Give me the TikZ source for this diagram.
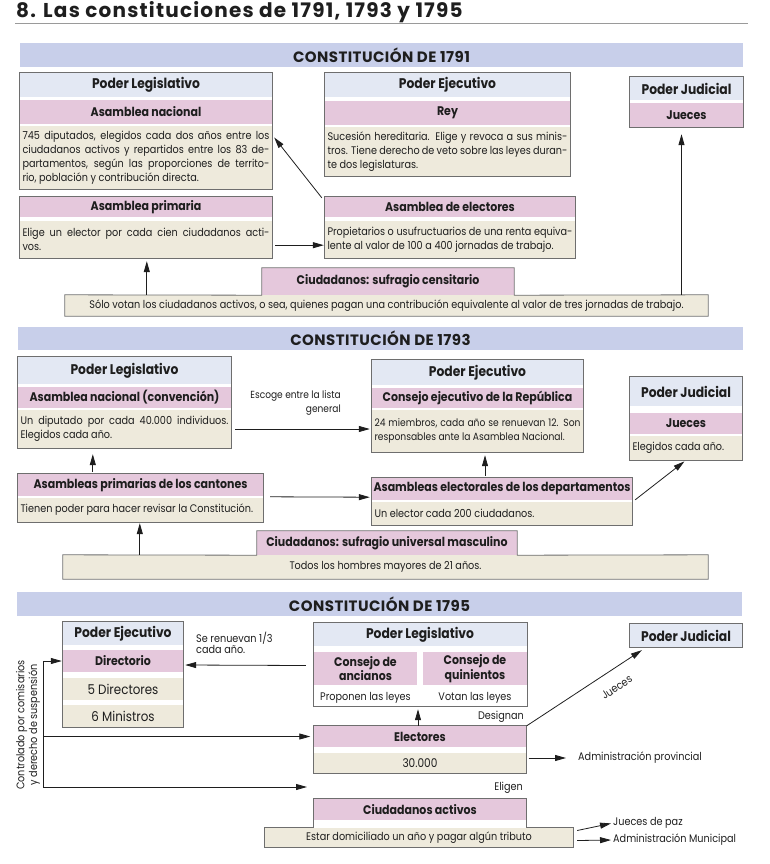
\documentclass[tikz,border=0pt]{standalone}
\usepackage{fontspec}
\setmainfont{Poppins}[FakeStretch=0.88]
\newfontfamily\titlefont{Poppins}[LetterSpace=6]
\newfontfamily\widefont{Poppins}[LetterSpace=3]
\usetikzlibrary{arrows.meta}

\definecolor{bandblue}{HTML}{C8CFEA}
\definecolor{headblue}{HTML}{E3E8F3}
\definecolor{pinkc}{HTML}{E5C8DC}
\definecolor{beige}{HTML}{EEEADC}
\definecolor{framegray}{HTML}{6E6E6E}
\definecolor{rulegray}{HTML}{9A9A9A}
\definecolor{ink}{HTML}{1E1E1E}

\tikzset{
  titletext/.style={font=\titlefont\fontsize{20}{22}\selectfont\bfseries, text=ink, inner sep=0pt},
  band/.style={fill=bandblue, minimum height=24, inner sep=0pt, font=\widefont\fontsize{15}{16}\selectfont\bfseries, text=ink},
  headband/.style={fill=headblue, inner sep=0pt, font=\fontsize{14}{15}\selectfont\bfseries, text=ink},
  pinkband/.style={fill=pinkc, inner sep=0pt, font=\fontsize{12.5}{12.5}\selectfont\bfseries, text=ink, align=center},
  textband/.style={fill=beige, inner xsep=2.5pt, inner ysep=1pt, font=\fontsize{11}{14}\selectfont, text=ink, align=justify},
  cellband/.style={fill=beige, inner sep=0pt, font=\fontsize{13.5}{14}\selectfont, text=ink},
  lowband/.style={fill=beige, inner sep=0pt, font=\fontsize{11}{13}\selectfont, text=ink},
  plainband/.style={inner sep=0pt, font=\fontsize{11}{13}\selectfont, text=ink},
  frame/.style={draw=framegray, line width=0.8pt},
  arr/.style={draw=ink, line width=0.8pt, -{Triangle[length=11pt,width=6pt]}},
  lbl/.style={font=\fontsize{11}{11}\selectfont, text=ink, inner sep=0pt},
}

\begin{document}
\begin{tikzpicture}[x=1pt, y=-1pt]
\useasboundingbox (0,0) rectangle (769,864);

% title
\node[titletext, anchor=base west] (title) at (16,18) {8. Las constituciones de 1791, 1793 y 1795};
\draw[rulegray, line width=0.6pt] (15,23) -- (748,23);

% ---------------- 1791 ----------------
\node[band, minimum width=723] (band91) at (381.5,55) {CONSTITUCIÓN DE 1791};

\node[headband, minimum width=252, minimum height=24] (leg91h) at (146,85) {Poder Legislativo};
\node[pinkband, minimum width=252, minimum height=24] (leg91p) at (146,112) {Asamblea nacional};
\node[textband, text width=247, minimum height=63] (leg91t) at (146,157.5) {745 diputados, elegidos cada dos años entre los\linebreak ciudadanos activos y repartidos entre los 83 de-\linebreak partamentos, según las proporciones de territo-\linebreak rio, población y contribución directa.};
\draw[frame] (leg91h.north west) rectangle (leg91t.south east);

\node[headband, minimum width=245, minimum height=24] (ejec91h) at (447.5,85) {Poder Ejecutivo};
\node[pinkband, minimum width=245, minimum height=24] (ejec91p) at (447.5,113) {Rey};
\node[textband, text width=240, minimum height=49] (ejec91t) at (447.5,151.5) {Sucesión hereditaria. Elige y revoca a sus minis-\linebreak tros. Tiene derecho de veto sobre las leyes duran-\linebreak te dos legislaturas.};
\draw[frame] (ejec91h.north west) rectangle (ejec91t.south east);

\node[headband, minimum width=113, minimum height=23] (jud91h) at (686.5,88.5) {Poder Judicial};
\node[pinkband, minimum width=113, minimum height=24] (jud91p) at (686.5,115) {Jueces};
\draw[frame] (jud91h.north west) rectangle (jud91p.south east);

\node[pinkband, minimum width=252, minimum height=20] (prim91p) at (146,207) {Asamblea primaria};
\node[textband, text width=247, minimum height=37] (prim91t) at (146,239.5) {Elige un elector por cada cien ciudadanos acti-\linebreak vos.};
\draw[frame] (prim91p.north west) rectangle (prim91t.south east);

\node[pinkband, minimum width=250, minimum height=20] (elec91p) at (450,207) {Asamblea de electores};
\node[textband, text width=245, minimum height=37] (elec91t) at (450,239.5) {Propietarios o usufructuarios de una renta equiva-\linebreak lente al valor de 100 a 400 jornadas de trabajo.};
\draw[frame] (elec91p.north west) rectangle (elec91t.south east);

\node[pinkband, minimum width=252, minimum height=27] (ciud91t) at (388,281.5) {Ciudadanos: sufragio censitario};
\node[lowband, minimum width=643, minimum height=21] (ciud91) at (386.5,305.5) {Sólo votan los ciudadanos activos, o sea, quienes pagan una contribución equivalente al valor de tres jornadas de trabajo.};
\draw[frame] (ciud91.south west) -- (ciud91.north west) -- (ciud91t.south west) -- (ciud91t.north west) -- (ciud91t.north east) -- (ciud91t.south east) -- (ciud91.north east) -- (ciud91.south east) -- cycle;

\draw[arr] ([shift={(3,-13)}]prim91t.south east) -- ([shift={(-1,-13)}]elec91t.south west);
\draw[arr] ([shift={(-3,1)}]elec91p.north west) -- ([shift={(2,-20)}]leg91t.east);
\coordinate (c91up) at ([shift={(82,0)}]ciud91.north west);
\draw[arr, shorten >=3pt] (c91up) -- (c91up |- prim91t.south);
\coordinate (j91in) at ([shift={(-5,0)}]jud91p.south);
\draw[arr, shorten >=7pt] (j91in |- ciud91.north) -- (j91in);

% ---------------- 1793 ----------------
\node[band, minimum width=725, minimum height=23] (band93) at (380.5,338.5) {CONSTITUCIÓN DE 1793};

\node[headband, minimum width=213, minimum height=27] (leg93h) at (124.5,370.5) {Poder Legislativo};
\node[pinkband, minimum width=213, minimum height=21] (leg93p) at (124.5,397.5) {Asamblea nacional (convención)};
\node[textband, text width=208, minimum height=38] (leg93t) at (124.5,429) {Un diputado por cada 40.000 individuos.\linebreak Elegidos cada año.};
\draw[frame] (leg93h.north west) rectangle (leg93t.south east);

\node[headband, minimum width=211, minimum height=25] (ejec93h) at (477.5,372.5) {Poder Ejecutivo};
\node[pinkband, minimum width=211, minimum height=20] (ejec93p) at (477.5,398) {Consejo ejecutivo de la República};
\node[textband, font=\fontsize{10.4}{14}\selectfont, text width=206, minimum height=42] (ejec93t) at (477.5,431) {\parfillskip=0pt 24 miembros, cada año se renuevan 12. Son\linebreak responsables ante la Asamblea Nacional.};
\draw[frame] (ejec93h.north west) rectangle (ejec93t.south east);

\node[headband, minimum width=112, minimum height=29] (jud93h) at (686,391.5) {Poder Judicial};
\node[pinkband, minimum width=112, minimum height=21] (jud93p) at (686,423.5) {Jueces};
\node[textband, text width=107, minimum height=24] (jud93t) at (686,448) {Elegidos cada año.};
\draw[frame] (jud93h.north west) rectangle (jud93t.south east);

\node[pinkband, minimum width=245, minimum height=22] (prim93p) at (140.5,485) {Asambleas primarias de los cantones};
\node[textband, text width=240, minimum height=24] (prim93t) at (140.5,510) {\parfillskip=0pt Tienen poder para hacer revisar la Constitución.};
\draw[frame] (prim93p.north west) rectangle (prim93t.south east);

\node[pinkband, minimum width=260, minimum height=22] (elec93p) at (502,489) {Asambleas electorales de los departamentos};
\node[textband, text width=255, minimum height=23] (elec93t) at (502,513.5) {Un elector cada 200 ciudadanos.};
\draw[frame] (elec93p.north west) rectangle (elec93t.south east);

\node[pinkband, minimum width=260, minimum height=24] (ciud93t) at (387,543) {Ciudadanos: sufragio universal masculino};
\node[lowband, minimum width=645, minimum height=24] (ciud93) at (385.5,567) {Todos los hombres mayores de 21 años.};
\draw[frame] (ciud93.south west) -- (ciud93.north west) -- (ciud93t.south west) -- (ciud93t.north west) -- (ciud93t.north east) -- (ciud93t.south east) -- (ciud93.north east) -- (ciud93.south east) -- cycle;

\draw[arr] ([shift={(4,0)}]leg93t.east) -- ([shift={(-2,-2)}]ejec93t.west);
\node[lbl, align=right, anchor=east, font=\fontsize{10.3}{14}\selectfont] (escoge) at (341,403) {Escoge entre la lista\\general};
\coordinate (p93up) at ([shift={(75,-2)}]prim93p.north west);
\draw[arr, shorten >=6pt] (p93up) -- (p93up |- leg93t.south);
\draw[arr] ([shift={(7,-1)}]prim93t.north east) -- ([shift={(-2,-3)}]elec93p.south west);
\coordinate (c93up) at ([shift={(77,0)}]ciud93.north west);
\draw[arr, shorten >=1pt] (c93up) -- (c93up |- prim93t.south);
\coordinate (e93up) at ([shift={(-17,-2)}]elec93p.north);
\draw[arr, shorten >=3pt] (e93up) -- (e93up |- ejec93t.south);
\draw[arr, shorten >=2pt] ([shift={(3,-2)}]elec93t.north east) -- (jud93t.south);

% ---------------- 1795 ----------------
\node[band, minimum width=725] (band95) at (379.5,604) {CONSTITUCIÓN DE 1795};

\node[headband, minimum width=120, minimum height=23] (ejec95h) at (123,633.5) {Poder Ejecutivo};
\node[pinkband, minimum width=120, minimum height=22] (ejec95p) at (123,661) {Directorio};
\node[cellband, minimum width=120, minimum height=22] (ejec95a) at (123,689) {5 Directores};
\node[cellband, minimum width=120, minimum height=22] (ejec95b) at (123,716) {6 Ministros};
\draw[frame] (ejec95h.north west) rectangle (ejec95b.south east);

\node[headband, minimum width=213, minimum height=23] (leg95h) at (420,634.5) {Poder Legislativo};
\node[pinkband, minimum width=103, minimum height=33] (leg95l) at (365.5,668.5) {Consejo de\\ancianos};
\node[pinkband, minimum width=104, minimum height=33] (leg95r) at (475,668.5) {Consejo de\\quinientos};
\node[plainband, minimum width=103, minimum height=17] (leg95bl) at (365.5,697.5) {Proponen las leyes};
\node[plainband, minimum width=104, minimum height=17] (leg95br) at (475,697.5) {Votan las leyes};
\draw[frame] (leg95h.north west) rectangle (leg95br.south east);

\node[headband, minimum width=112, minimum height=23] (jud95h) at (686,635.5) {Poder Judicial};
\draw[frame] (jud95h.north west) rectangle (jud95h.south east);

\node[pinkband, minimum width=213, minimum height=21] (elec95p) at (420,736.5) {Electores};
\node[lowband, font=\fontsize{12}{13}\selectfont, minimum width=213, minimum height=20] (elec95t) at (420,763) {30.000};
\draw[frame] (elec95p.north west) rectangle (elec95t.south east);

\node[pinkband, minimum width=213, minimum height=21] (ciud95t) at (420,809.5) {Ciudadanos activos};
\node[lowband, minimum width=308, minimum height=19] (ciud95) at (419,837.5) {Estar domiciliado un año y pagar algún tributo};
\draw[frame] (ciud95.south west) -- (ciud95.north west) -- (ciud95t.west |- ciud95.north) -- (ciud95t.north west) -- (ciud95t.north east) -- (ciud95t.east |- ciud95.north) -- (ciud95.north east) -- (ciud95.south east) -- cycle;

\draw[arr] ([shift={(-8,-3)}]leg95l.west) -- ([shift={(2,4)}]ejec95p.east);
\node[lbl, align=left, anchor=west, font=\fontsize{11}{11}\selectfont] (renuevan) at (196,643) {Se renuevan 1/3\\cada año.};

\coordinate (ctrltop) at (43,661);
\coordinate (ctrlbot) at (43,787);
\coordinate (ctrlend) at (307,787);
\draw[arr] (ctrlbot) -- (ctrltop) -- ([shift={(-1,0)}]ejec95p.west);
\draw[arr] (ctrltop |- elec95p.west) -- ([shift={(-3,0)}]elec95p.west);
\draw[arr] (ctrlbot) -- (ctrlend);
\node[lbl, rotate=90, align=center] (ctrltxt) at (28,725) {Controlado por comisarios\\y derecho de suspensión};

\draw[arr, shorten >=3pt] ([shift={(-2,0)}]elec95p.north) -- ([shift={(-2,0)}]elec95p.north |- leg95br.south);
\node[lbl, anchor=east] (designan) at (524,717) {Designan};
\draw[arr] (elec95p.north east) -- ([shift={(12,3)}]jud95h.south west) node[lbl, sloped, pos=0.7, below=13pt] (juecestxt) {Jueces};

\node[lbl, anchor=west] (admprov) at (578,758) {Administración provincial};
\draw[arr, shorten >=12pt] ([shift={(2,-5)}]elec95t.east) -- (admprov.west);
\node[lbl, anchor=east] (eligen) at (523,788) {Eligen};

\node[lbl, anchor=west] (jpaz) at (613,823) {Jueces de paz};
\node[lbl, anchor=west] (admmun) at (613,840) {Administración Municipal};
\draw[arr, shorten >=2pt] ([shift={(4,-7)}]ciud95.east) -- (jpaz.west);
\draw[arr, shorten >=2pt] ([shift={(4,3)}]ciud95.east) -- (admmun.west);
\end{tikzpicture}
\end{document}
